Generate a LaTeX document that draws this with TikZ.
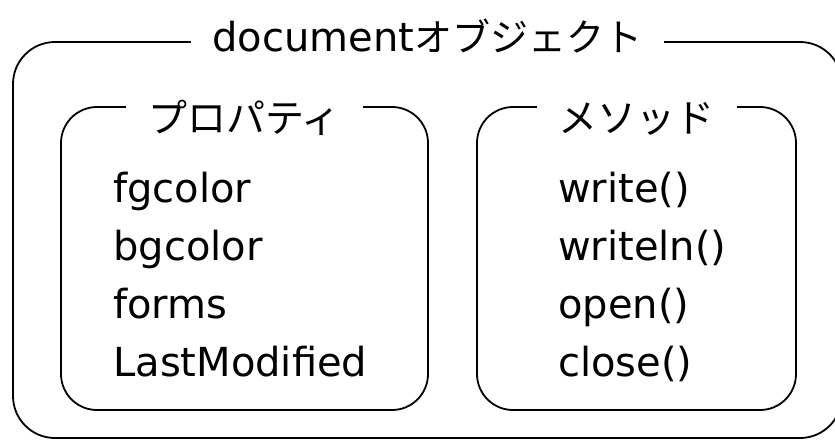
\documentclass[tikz,border=0pt]{standalone}
\usepackage{fontspec}
\setmainfont{DejaVu Sans}
\newfontfamily\jpfont{Noto Sans CJK JP}
\tikzset{
  frame/.style={draw, line width=1.8pt, rounded corners=#1},
  title/.style={fill=white, inner xsep=22pt, inner ysep=2pt, anchor=base, font=\fontsize{40}{48}\selectfont},
  item/.style={anchor=base west, inner sep=0pt, font=\fontsize{40}{48}\selectfont}
}
\begin{document}
\begin{tikzpicture}[x=1pt,y=-1pt]
\useasboundingbox (0,0) rectangle (835,440);

\node[frame=42pt, minimum width=829pt, minimum height=396pt] (outer) at (427.5,240) {};
\node[frame=36pt, minimum width=367pt, minimum height=303pt] (props) at (244.5,258.5) {};
\node[frame=36pt, minimum width=319pt, minimum height=303pt] (meths) at (636.5,258.5) {};

\node[title] (outertitle) at ([yshift=-10pt]outer.north) {document{\jpfont\fontsize{38}{46}\selectfont オブジェクト}};
\node[title] (propstitle) at ([yshift=-26pt]props.north) {\jpfont\fontsize{39}{46}\selectfont プロパティ};
\node[title] (methstitle) at ([yshift=-26pt]meths.north) {\jpfont\fontsize{39}{46}\selectfont メソッド};

\foreach \txt [count=\i] in {fgcolor,bgcolor,forms,LastModified}
{
   \node[item] (prop\i) at (113,144+58*\i) {\txt};
}
\foreach \txt [count=\i] in {write(),writeln(),open(),close()}
{
   \node[item] (meth\i) at (558,144+58*\i) {\txt};
}
\end{tikzpicture}
\end{document}
